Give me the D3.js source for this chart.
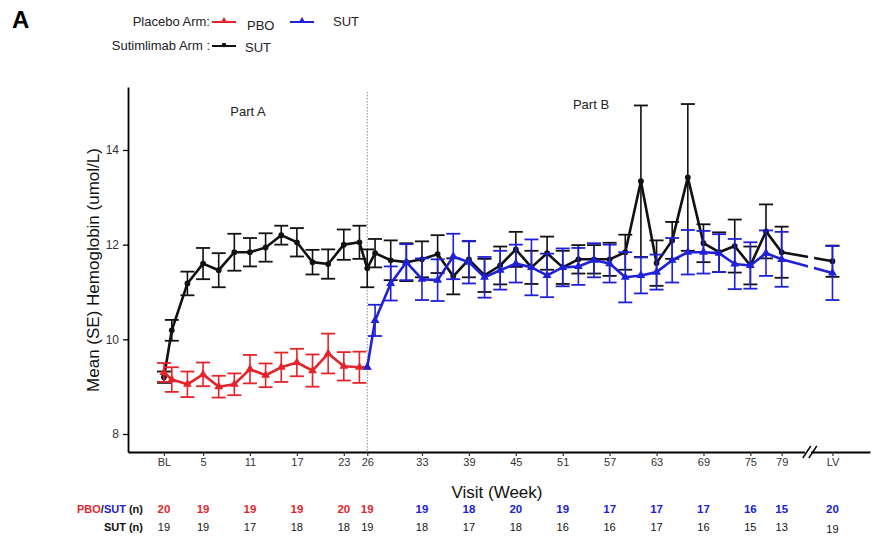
<html>
<head>
  <meta charset="utf-8">
  <script src="https://d3js.org/d3.v7.min.js"></script>
  <style>
    body { margin: 0; background: #fff; }
    text { font-family: Arial, "Liberation Sans", sans-serif; }
  </style>
</head>
<body>
<svg id="chart"></svg>
<script>
// visit weeks (LV = last visit, drawn after the axis break)
var sutWeeks = [0,1,3,5,7,9,11,13,15,17,19,21,23,25,26,27,29,31,33,35,37,39,41,43,45,47,49,51,53,55,57,59,61,63,65,67,69,71,73,75,77,79,"LV"];
var sutMean  = [9.2,10.19,11.18,11.6,11.46,11.84,11.84,11.94,12.2,12.05,11.63,11.59,12.0,12.05,11.5,11.82,11.67,11.63,11.69,11.8,11.33,11.69,11.35,11.56,11.9,11.52,11.82,11.52,11.69,11.69,11.69,11.84,13.34,11.61,12.09,13.42,12.03,11.84,11.97,11.56,12.28,11.84,11.65];
var sutSE    = [0.12,0.22,0.25,0.33,0.36,0.39,0.3,0.3,0.2,0.3,0.26,0.31,0.32,0.35,0.4,0.3,0.42,0.4,0.38,0.4,0.38,0.38,0.35,0.4,0.37,0.35,0.35,0.35,0.3,0.3,0.35,0.37,1.6,0.48,0.39,1.55,0.4,0.42,0.56,0.4,0.57,0.54,0.33];

var pboWeeks = [0,1,3,5,7,9,11,13,15,17,19,21,23,25,26];
var pboMean  = [9.3,9.15,9.05,9.26,9.0,9.05,9.37,9.24,9.41,9.51,9.34,9.7,9.43,9.41,9.41];
var pboSE    = [0.2,0.26,0.27,0.25,0.23,0.23,0.3,0.25,0.31,0.29,0.34,0.42,0.3,0.33,0];

var crossWeeks = [26,27,29,31,33,35,37,39,41,43,45,47,49,51,53,55,57,59,61,63,65,67,69,71,73,75,77,79,"LV"];
var crossMean  = [9.41,10.4,11.18,11.63,11.27,11.25,11.75,11.63,11.31,11.46,11.6,11.52,11.35,11.52,11.54,11.67,11.6,11.31,11.35,11.42,11.67,11.84,11.84,11.82,11.59,11.56,11.82,11.69,11.4];
var crossSE    = [0,0.33,0.36,0.38,0.44,0.44,0.48,0.45,0.43,0.41,0.4,0.59,0.46,0.4,0.39,0.36,0.4,0.53,0.38,0.37,0.47,0.47,0.45,0.4,0.53,0.49,0.48,0.58,0.57];

// x tick labels and the n table under the axis
var tickWeeks = [0,5,11,17,23,26,33,39,45,51,57,63,69,75,79,"LV"];
var nPbo      = [20,19,19,19,20,19,19,18,20,19,17,17,17,16,15,20];
var nSut      = [19,19,17,18,18,19,18,17,18,16,16,17,16,15,13,19];
var yTicks    = [8,10,12,14];

var W = 872, H = 540;
var RED = "#e3242b", BLUE = "#2020d8", BLACK = "#111";
var LV_WEEK = 85.5, BREAK_WEEK = 82.6;

var svg = d3.select("#chart").attr("width", W).attr("height", H);

var x = d3.scaleLinear().domain([-4.6, 90.3]).range([128, 870]);
var y = d3.scaleLinear().domain([7.62, 15.33]).range([452, 87]);

function xw(w) { return w === "LV" ? x(LV_WEEK) : x(w); }

// axes
var yAxis = d3.axisLeft(y).tickValues(yTicks).tickSize(5).tickSizeOuter(0);
var gy = svg.append("g").attr("transform", "translate(128,0)").call(yAxis);
gy.select(".domain").attr("stroke", "#000").attr("stroke-width", 1.8);
gy.selectAll(".tick line").attr("stroke", "#000").attr("stroke-width", 1.3);
gy.selectAll(".tick text").attr("font-size", 12).attr("fill", "#333").attr("x", -9);

var xAxis = d3.axisBottom(x).tickValues(tickWeeks.map(function (d) { return d === "LV" ? LV_WEEK : d; }))
  .tickFormat(function (d, i) { return i === 0 ? "BL" : tickWeeks[i]; })
  .tickSize(4).tickSizeOuter(0);
var gx = svg.append("g").attr("transform", "translate(0,452)").call(xAxis);
gx.select(".domain").attr("stroke", "#000").attr("stroke-width", 1.8);
gx.selectAll(".tick line").attr("stroke", "#333").attr("stroke-width", 1.2);
gx.selectAll(".tick text").attr("font-size", 11).attr("fill", "#333").attr("y", 6);

// part divider at week 26
svg.append("line")
  .attr("x1", x(26)).attr("x2", x(26)).attr("y1", 92).attr("y2", 452)
  .attr("stroke", "#888").attr("stroke-width", 1).attr("stroke-dasharray", "1.5,1.5");

svg.append("text").attr("x", 248).attr("y", 116).attr("text-anchor", "middle")
  .attr("font-size", 13).attr("fill", "#222").text("Part A");
svg.append("text").attr("x", 591).attr("y", 109).attr("text-anchor", "middle")
  .attr("font-size", 13).attr("fill", "#222").text("Part B");

function series(weeks, mean, se, color, marker) {
  var pts = weeks.map(function (w, i) { return { w: w, m: mean[i], s: se[i] }; });
  var g = svg.append("g");
  // error bars
  var eb = g.selectAll(".eb").data(pts.filter(function (d) { return d.s > 0; })).enter().append("g");
  eb.append("line")
    .attr("x1", function (d) { return xw(d.w); }).attr("x2", function (d) { return xw(d.w); })
    .attr("y1", function (d) { return y(d.m + d.s); }).attr("y2", function (d) { return y(d.m - d.s); })
    .attr("stroke", color).attr("stroke-width", 1.6);
  [1, -1].forEach(function (sg) {
    eb.append("line")
      .attr("x1", function (d) { return xw(d.w) - 7; }).attr("x2", function (d) { return xw(d.w) + 7; })
      .attr("y1", function (d) { return y(d.m + sg * d.s); }).attr("y2", function (d) { return y(d.m + sg * d.s); })
      .attr("stroke", color).attr("stroke-width", 1.8);
  });
  var line = d3.line().x(function (d) { return xw(d.w); }).y(function (d) { return y(d.m); });
  g.append("path").datum(pts).attr("d", line)
    .attr("fill", "none").attr("stroke", color).attr("stroke-width", 2.6).attr("stroke-linejoin", "round");
  var sym = d3.symbol().type(marker === "tri" ? d3.symbolTriangle : d3.symbolCircle).size(marker === "tri" ? 34 : 26);
  g.selectAll(".pt").data(pts).enter().append("path")
    .attr("d", sym)
    .attr("transform", function (d) { return "translate(" + xw(d.w) + "," + y(d.m) + ")"; })
    .attr("fill", color);
}

series(sutWeeks, sutMean, sutSE, BLACK, "dot");
series(pboWeeks, pboMean, pboSE, RED, "tri");
series(crossWeeks, crossMean, crossSE, BLUE, "tri");

// axis break between week 79 and LV
var bx = x(BREAK_WEEK);
svg.append("polygon")
  .attr("points", [[bx - 5, 459], [bx + 1, 459], [bx + 5, 215], [bx - 1, 215]].map(function (p) { return p.join(","); }).join(" "))
  .attr("fill", "#fff");
[-3, 3].forEach(function (o) {
  svg.append("line").attr("x1", bx + o - 4).attr("y1", 458).attr("x2", bx + o + 4).attr("y2", 446)
    .attr("stroke", "#000").attr("stroke-width", 1.4);
});

// axis titles
svg.append("text")
  .attr("transform", "translate(99,270) rotate(-90)")
  .attr("text-anchor", "middle").attr("font-size", 17).attr("fill", "#111")
  .text("Mean (SE) Hemoglobin (umol/L)");
svg.append("text").attr("x", 497).attr("y", 498).attr("text-anchor", "middle")
  .attr("font-size", 17).attr("fill", "#111").text("Visit (Week)");

// n table
var lab = svg.append("text").attr("x", 143).attr("y", 513).attr("text-anchor", "end")
  .attr("font-size", 11).attr("font-weight", "bold");
lab.append("tspan").attr("fill", RED).text("PBO");
lab.append("tspan").attr("fill", BLACK).text("/");
lab.append("tspan").attr("fill", BLUE).text("SUT");
lab.append("tspan").attr("fill", BLACK).text(" (n)");
svg.append("text").attr("x", 143).attr("y", 531).attr("text-anchor", "end")
  .attr("font-size", 11).attr("font-weight", "bold").attr("fill", BLACK).text("SUT (n)");

svg.selectAll(".npbo").data(nPbo).enter().append("text")
  .attr("x", function (d, i) { return xw(tickWeeks[i]); }).attr("y", 513)
  .attr("text-anchor", "middle").attr("font-size", 11.5).attr("font-weight", "bold")
  .attr("fill", function (d, i) { return i < 6 ? RED : BLUE; })
  .text(function (d) { return d; });
svg.selectAll(".nsut").data(nSut).enter().append("text")
  .attr("x", function (d, i) { return xw(tickWeeks[i]); }).attr("y", function (d, i) { return i === nSut.length - 1 ? 533 : 531; })
  .attr("text-anchor", "middle").attr("font-size", 11).attr("fill", BLACK)
  .text(function (d) { return d; });

// panel letter and legend
svg.append("text").attr("x", 12).attr("y", 28).attr("font-size", 24).attr("font-weight", "bold")
  .attr("font-family", "Arial Black, Arial, sans-serif").text("A");

function legendKey(x0, y0, color, marker) {
  svg.append("line").attr("x1", x0).attr("x2", x0 + 24).attr("y1", y0).attr("y2", y0)
    .attr("stroke", color).attr("stroke-width", 2);
  var sym = d3.symbol().type(marker === "tri" ? d3.symbolTriangle : d3.symbolCircle).size(marker === "tri" ? 22 : 16);
  svg.append("path").attr("d", sym).attr("transform", "translate(" + (x0 + 12) + "," + (y0 - 1) + ")").attr("fill", color);
}
svg.append("text").attr("x", 210).attr("y", 26).attr("text-anchor", "end").attr("font-size", 13).attr("fill", "#222").text("Placebo Arm:");
legendKey(212, 22, RED, "tri");
svg.append("text").attr("x", 247).attr("y", 30).attr("font-size", 13).attr("fill", "#222").text("PBO");
legendKey(290, 22, BLUE, "tri");
svg.append("text").attr("x", 333).attr("y", 26).attr("font-size", 13).attr("fill", "#222").text("SUT");
svg.append("text").attr("x", 210).attr("y", 50).attr("text-anchor", "end").attr("font-size", 13).attr("fill", "#222").text("Sutimlimab Arm :");
legendKey(212, 46, BLACK, "dot");
svg.append("text").attr("x", 245).attr("y", 52).attr("font-size", 13).attr("fill", "#222").text("SUT");
</script>
</body>
</html>
